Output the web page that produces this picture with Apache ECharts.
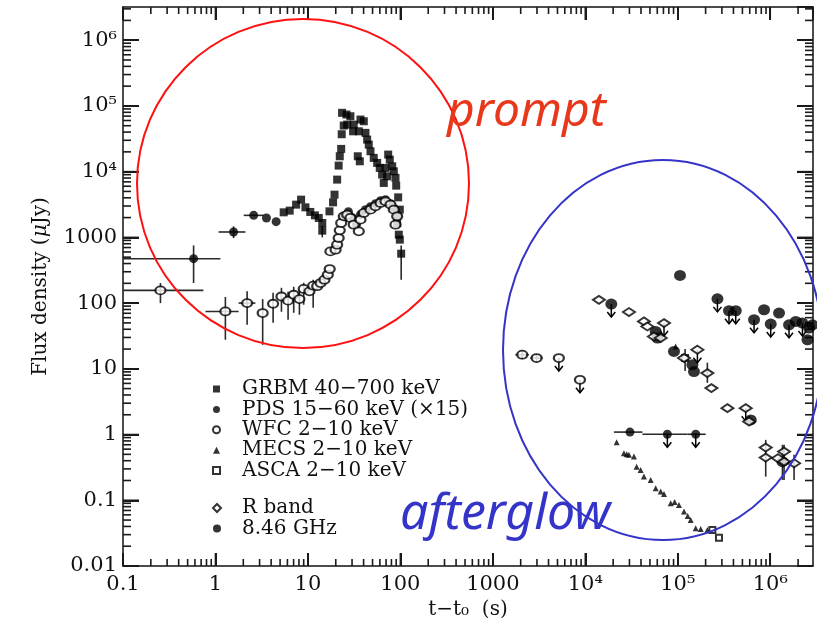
<!DOCTYPE html>
<html><head><meta charset="utf-8">
<script src="https://cdn.jsdelivr.net/npm/echarts@6/dist/echarts.min.js"></script>
<style>html,body{margin:0;padding:0;background:#fff}#c{width:817px;height:627px}</style>
</head><body><div id="c"></div>
<script>
// rows: [x, y, xlo, xhi, ylo, yhi, upperLimit]
const grbm = [
 [5.47,2404],[6.35,2552],[7.45,3148],[8.44,3750],[9.4,2864],[10.6,2438],[11.9,2163],[13.1,1974],[14.3,1656],
 [14.3,1265,0,0,1000,1500],[17.1,2489],
 [18.7,3412],[19.4,4467],[20.7,7568],[21.5,12360],[22.1,17140],[22.9,22180],[23.2,37070],[24.4,50230],
 [23.4,78520],[26.1,73960],[28.8,69660],[26.6,52000],[31.3,52000],[30.8,41110],[35.5,41110],[37.0,62080],
 [40.2,58480],[34.6,17140],[36.4,14380],[41.9,38900],[43.7,30760],[45.5,25820],[47.5,20420],[51.5,16180],
 [56.1,13590],[59.8,11400],[63.5,9016],[69.0,11400],[73.8,18190],[76.8,15240],[81.5,12050],[84.9,10120],
 [88.5,8035],[90.1,6124],[94.6,4064],[98.6,2642],[92.3,1656],[96.1,1099],[98.6,923],[102,565,0,0,227,750],
 [66.1,6730],[71.9,8492]
];
const pds = [
 [0.58,474,0.1,1.13,202,755],[1.57,1208,1.08,2.11,979,1472],[2.59,2163,2.02,3.32],[3.56,1974],[4.53,1734],
 [24.4,2089],[27.4,2462],[30.3,1995],[33.5,1561],[37.0,2218],[41.9,2642],[47.5,2936],[53.8,3261],
 [61.0,3622],[69.0,3750],[78.2,3261],[86.3,2735],[93.8,2138],
 [30400,1.09,20400,41400],[77100,1.01,41400,127000,0,0,1],[156300,1.01,127000,200400,0,0,1]
];
const wfc = [
 [0.254,156,0.1,0.74,100,202],[1.28,74.6,0.78,1.78,27.7,124],[2.2,100,1.78,2.7,46.8,151],
 [3.24,70.6,0,0,23.2,115],[4.2,97.8,0,0,50.2,144],[5.17,126,0,0,73.8,171],[6.1,109,0,0,55.8,149],
 [7.02,134,0,0,71.3,177],[8.09,115,0,0,66.5,160],[9.0,164,0,0,94.4,204],[10.4,151],[11.4,184,0,0,85,227],
 [12.6,181],[13.7,202],[15.1,227],[16.4,270],[17.2,330],[17.5,612],[19.9,650],[20.7,774],[21.5,979],
 [22.1,1279],[22.9,1656],[24.4,2089],[26.6,2218],[28.8,1974],[31.3,1561],[35.5,1234],[37.0,1862],
 [40.2,2354],[47.5,2642],[53.8,2965],[61.0,3342],[69.0,3532],[78.2,3148],[84.9,2642],[92.3,2089],[88.5,1561],
 [2080,16.4,1750,2450,14,19],[2972,14.6,2550,3450,12.6,16.8],[5176,14.6,0,0,0,0,1],[8750,6.8,0,0,0,0,1]
];
const mecs = [
 [21800,0.766],[26180,0.52],[28000,0.5],[29650,0.491],[33570,0.462],[35900,0.325],[39630,0.29],[43050,0.229],
 [50930,0.204],[57680,0.152],[65310,0.136],[70960,0.125],[83750,0.0902],[92500,0.0945],[103000,0.0849],
 [116700,0.0672],[128000,0.0577],[138000,0.0502],[156300,0.0375],[177000,0.0366],[208900,0.0353],[94840,21.9]
];
const asca = [
 [236600,0.0353],[279000,0.027],[120000,14.6,0,0,9.3,20]
];
const rband = [
 [14030,112],[29650,73.1],[43050,52.6],[46880,44.1],[70960,49.7,0,0,0,0,1],[55210,31.0],[65310,29.4],
 [163000,19.5,0,0,0,0,1],[116700,14.6],[208900,8.61,0,0,6.12,12.4],[231000,5.09],[344300,2.52],
 [543000,2.52,0,0,0,0,1],[590200,1.58],[893300,0.634,0,0,0.229,0.83],[893300,0.446],[1213000,0.436],
 [1410000,0.551,0,0,0.204,0.697],[1410000,0.387],[1810000,0.366,0,0,0.204,0.491]
];
const radio = [
 [105700,264],[19100,96.8,0,0,0,0,1],[268500,116,0,0,0,0,1],[358100,76.5,0,0,0,0,1],[423600,76.5,0,0,0,0,1],
 [668000,55.8,0,0,0,0,1],[857000,79.2],[1012000,48.0,0,0,0,0,1],[1245000,70.6],[1596000,46.8,0,0,0,0,1],
 [1888000,52.6],[2230000,49.7,0,0,0,0,1],[2630000,41.7],[2530000,27.7],[2860000,46.8],
 [57680,37.0],[60120,29.4],[90990,18.4],[143900,11.5],[149700,9.1],[615200,1.67],
 [1355000,0.387,0,0,0.204,0.697]
];
const xTickLabels = {'-1':'0.1','0':'1','1':'10','2':'100','3':'1000','4':'10⁴','5':'10⁵','6':'10⁶'};
const yTickLabels = {'-2':'0.01','-1':'0.1','0':'1','1':'10','2':'100','3':'1000','4':'10⁴','5':'10⁵','6':'10⁶'};
const legendNames1 = ['GRBM 40−700 keV','PDS 15−60 keV (×15)','WFC 2−10 keV','MECS 2−10 keV','ASCA 2−10 keV'];
const legendNames2 = ['R band','8.46 GHz'];

const XMIN=0.1, XMAX=2.9e6, YMIN=0.01, YMAX=3.2e6;
const SERIF='"DejaVu Serif", serif';
const INK='#000';

function pad(r){ const o=r.slice(); while(o.length<7) o.push(0); return o; }
const allSets=[grbm,pds,wfc,mecs,asca,rband,radio];
const errRows=[], ulRows=[];
allSets.forEach(s=>s.forEach(r=>{ const p=pad(r); if(p[2]>0||p[4]>0) errRows.push(p.slice(0,6)); if(p[6]) ulRows.push([p[0],p[1]]); }));

function lab(map){ return function(v){ const l=Math.log10(v), e=Math.round(l); if(Math.abs(l-e)>1e-6) return ''; return map[String(e)]||''; }; }

// tick values for the inner tick marks (1..9 x 10^k)
const tickVals=[];
for(let k=-2;k<=6;k++){ for(let m=1;m<=9;m++){ tickVals.push([m*Math.pow(10,k), m===1?1:0]); } }

function ln(x1,y1,x2,y2,w,c){ return {type:'line',shape:{x1:x1,y1:y1,x2:x2,y2:y2},style:{stroke:c||INK,lineWidth:w||1.5}}; }
function bar(x,y,w,h){ return {type:'rect',shape:{x:x,y:y,width:w,height:h},style:{fill:'#1a1a1a'}}; }
function renderTicks(params, api){
  const v=api.value(0), major=api.value(1)===1;
  const ch=[];
  if(v>=XMIN&&v<XMAX){
    const b=api.coord([v,YMIN]), t=api.coord([v,YMAX]); const h=major?13:7;
    ch.push(bar(b[0]-0.8,b[1]-h,1.6,h)); ch.push(bar(t[0]-0.8,t[1],1.6,h));
  }
  if(v>=YMIN&&v<YMAX){
    const l=api.coord([XMIN,v]), r=api.coord([XMAX,v]); const w=major?16:8;
    ch.push(bar(l[0],l[1]-0.8,w,1.6)); ch.push(bar(r[0]-w,r[1]-0.8,w,1.6));
  }
  return {type:'group',children:ch};
}
function renderErr(params, api){
  const x=api.value(0), y=api.value(1), xlo=api.value(2), xhi=api.value(3), ylo=api.value(4), yhi=api.value(5);
  const ch=[];
  if(xlo>0&&xhi>0){ const a=api.coord([xlo,y]), b=api.coord([xhi,y]); ch.push(ln(a[0],a[1],b[0],b[1],1.6,'#2a2a2a')); }
  if(ylo>0&&yhi>0){ const a=api.coord([x,ylo]), b=api.coord([x,yhi]); ch.push(ln(a[0],a[1],b[0],b[1],1.6,'#2a2a2a')); }
  return {type:'group',children:ch};
}
function renderUL(params, api){
  const p=api.coord([api.value(0),api.value(1)]);
  return {type:'group',children:[
    ln(p[0],p[1],p[0],p[1]+13,1.5),
    {type:'polyline',shape:{points:[[p[0]-4,p[1]+8],[p[0],p[1]+13],[p[0]+4,p[1]+8]]},style:{stroke:INK,lineWidth:1.5,fill:null}}]};
}
function xy(s){ return s.map(r=>[r[0],r[1]]); }

const chart=echarts.init(document.getElementById('c'));
const axisLineStyle={color:'#111',width:1.5};
const tickX={show:true,inside:true,length:13,lineStyle:{color:'#1a1a1a',width:2}};
const tickY={show:true,inside:true,length:16,lineStyle:{color:'#1a1a1a',width:2}};
chart.setOption({
  animation:false,
  grid:{left:123,right:4,top:7,bottom:61,containLabel:false},
  xAxis:[
    {type:'log',min:XMIN,max:XMAX,splitNumber:8,
     name:'t−t₀  (s)',nameLocation:'middle',nameGap:31,
     nameTextStyle:{fontFamily:SERIF,fontSize:20,color:'#111'},
     axisLine:{show:true,onZero:false,lineStyle:axisLineStyle},axisTick:tickX,
     axisLabel:{formatter:lab(xTickLabels),fontFamily:SERIF,fontSize:21,color:'#111',margin:8,showMaxLabel:false},
     splitLine:{show:false}},
    {type:'log',min:XMIN,max:XMAX,splitNumber:8,position:'top',
     axisLine:{show:true,onZero:false,lineStyle:axisLineStyle},axisTick:tickX,
     axisLabel:{show:false},splitLine:{show:false}}
  ],
  yAxis:[
    {type:'log',min:YMIN,max:YMAX,splitNumber:9,
     name:'{a|Flux density (}{b|μ}{a|Jy)}',nameLocation:'middle',nameGap:72,
     nameTextStyle:{rich:{a:{fontFamily:SERIF,fontSize:20,color:'#111'},b:{fontFamily:SERIF,fontSize:20,fontStyle:'italic',color:'#111'}}},
     axisLine:{show:true,onZero:false,lineStyle:axisLineStyle},axisTick:tickY,
     axisLabel:{formatter:lab(yTickLabels),fontFamily:SERIF,fontSize:21,color:'#111',margin:6,showMaxLabel:false},
     splitLine:{show:false}},
    {type:'log',min:YMIN,max:YMAX,splitNumber:9,position:'right',
     axisLine:{show:true,onZero:false,lineStyle:axisLineStyle},axisTick:tickY,
     axisLabel:{show:false},splitLine:{show:false}}
  ],
  legend:[
    {orient:'vertical',left:207,top:374,itemWidth:7,itemHeight:7,itemGap:0.4,selectedMode:false,
     textStyle:{fontFamily:SERIF,fontSize:20,lineHeight:19,color:'#111',padding:[0,0,0,17]},
     data:legendNames1},
    {orient:'vertical',left:207,top:493,itemWidth:8,itemHeight:8,itemGap:0.4,selectedMode:false,
     textStyle:{fontFamily:SERIF,fontSize:20,lineHeight:19,color:'#111',padding:[0,0,0,16]},
     data:legendNames2}
  ],
  series:[
    {type:'custom',renderItem:renderErr,data:errRows,silent:true,z:6,clip:false,encode:{x:0,y:1}},
    {type:'custom',renderItem:renderUL,data:ulRows,silent:true,z:6,clip:false},
    {type:'custom',renderItem:renderTicks,data:tickVals,silent:true,z:6,clip:false,encode:{x:0}},
    {type:'scatter',name:legendNames1[0],data:xy(grbm),symbol:'rect',symbolSize:8,itemStyle:{color:'#000'},z:7},
    {type:'scatter',name:legendNames1[1],data:xy(pds),symbol:'circle',symbolSize:9,itemStyle:{color:'#000'},z:7},
    {type:'scatter',name:legendNames1[2],data:xy(wfc),symbol:'emptyCircle',symbolSize:[10,8],
     itemStyle:{color:'#000',borderColor:'#000',borderWidth:1.3},z:8},
    {type:'scatter',name:legendNames1[3],data:xy(mecs),symbol:'triangle',symbolSize:6,itemStyle:{color:'#000'},z:7},
    {type:'scatter',name:legendNames1[4],data:xy(asca),symbol:'emptyRect',symbolSize:6,
     itemStyle:{color:'#000',borderColor:'#000',borderWidth:1.2},z:7},
    {type:'scatter',name:legendNames2[0],data:xy(rband),symbol:'emptyDiamond',symbolSize:[12,8],
     itemStyle:{color:'#000',borderColor:'#000',borderWidth:1.2},z:8},
    {type:'scatter',name:legendNames2[1],data:xy(radio),symbol:'circle',symbolSize:[12,11],itemStyle:{color:'#000'},z:7}
  ],
  graphic:{elements:[
    {type:'ellipse',shape:{cx:303,cy:183.5,rx:166,ry:164.5},style:{fill:'transparent',stroke:'#ff1010',lineWidth:2},z:100,silent:true},
    {type:'ellipse',shape:{cx:663,cy:350,rx:160,ry:190},style:{fill:'transparent',stroke:'#3434c8',lineWidth:2},z:100,silent:true},
    {type:'text',x:447,y:88,style:{text:'prompt',fontFamily:'"Noto Sans", sans-serif',fontStyle:'italic',fontSize:48,
      fill:'#e8381c',textVerticalAlign:'alphabetic',verticalAlign:'alphabetic'},z:101,silent:true},
    {type:'text',x:400,y:490,style:{text:'afterglow',fontFamily:'"Noto Sans", sans-serif',fontStyle:'italic',fontSize:50,
      fill:'#3434c8',textVerticalAlign:'alphabetic',verticalAlign:'alphabetic'},z:101,silent:true}
  ]}
});
</script></body></html>
